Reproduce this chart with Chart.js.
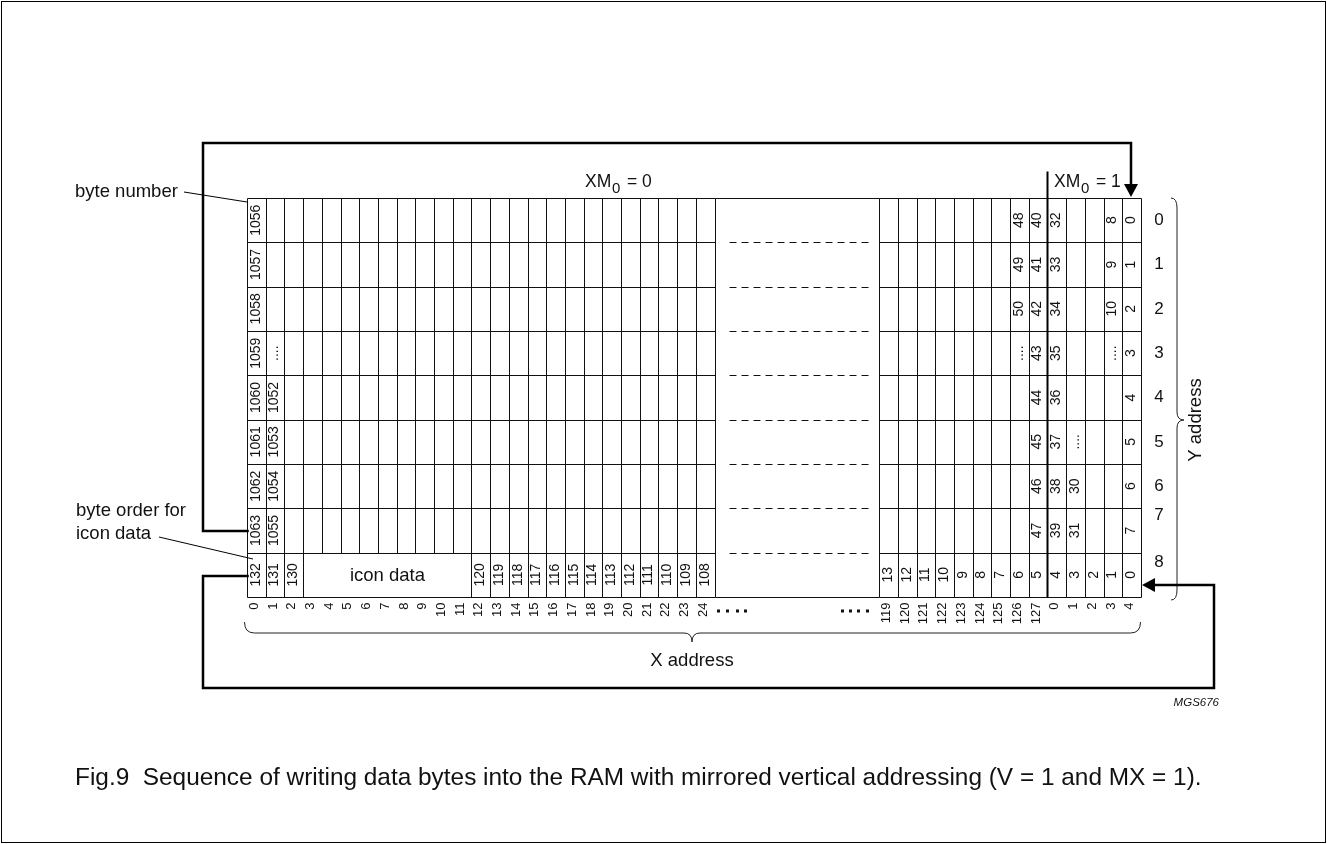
<!DOCTYPE html>
<html>
<head>
<meta charset="utf-8">
<script src="https://cdn.jsdelivr.net/npm/chart.js@4.4.0/dist/chart.umd.min.js"></script>
<style>
  html, body { margin: 0; padding: 0; background: #fff; }
  canvas { display: block; }
</style>
</head>
<body>
<canvas id="ram" width="1327" height="844"></canvas>
<script>
// X address tick labels (left block and right block)
const xAddrLeft = ['0','1','2','3','4','5','6','7','8','9','10','11','12','13','14','15','16','17','18','19','20','21','22','23','24'];
const xAddrRight = ['119','120','121','122','123','124','125','126','127','0','1','2','3','4'];
// Y address labels
const yAddr = ['0','1','2','3','4','5','6','7','8'];

// byte numbers, left block, rows 0..8
const col0Bytes = ['1056','1057','1058','1059','1060','1061','1062','1063','132'];
const col1Bytes = ['','','','....','1052','1053','1054','1055','131'];
const col2Bytes = ['','','','','','','','','130'];
// icon row (row 8), X address 12..24
const iconLeftBytes = ['120','119','118','117','116','115','114','113','112','111','110','109','108'];
// right block, rows 0..7, X address 126, 127 | 0, 1, 2, 3, 4
const col126Bytes = ['48','49','50','....','','','',''];
const col127Bytes = ['40','41','42','43','44','45','46','47'];
const colX0Bytes = ['32','33','34','35','36','37','38','39'];
const colX1Bytes = ['','','','','','....','30','31'];
const colX3Bytes = ['8','9','10','....','','','',''];
const colX4Bytes = ['0','1','2','3','4','5','6','7'];
// icon row (row 8), X address 119..127, 0..4
const iconRightBytes = ['13','12','11','10','9','8','7','6','5','4','3','2','1','0'];

const GAP = 8.8;                 // width of the broken-off middle part, in columns
const RIGHT0 = 25 + GAP;         // first column of the right block
const XMAX = RIGHT0 + xAddrRight.length;
const ROWS = yAddr.length;
const FONT = '"Liberation Sans", Arial, Helvetica, sans-serif';

// build label points from the arrays
const cells = [];
function addCol(slot, list) {
  list.forEach((t, r) => { if (t) cells.push({ x: slot + 0.5, y: r + 0.5, t: t }); });
}
addCol(0, col0Bytes);
addCol(1, col1Bytes);
addCol(2, col2Bytes);
iconLeftBytes.forEach((t, i) => cells.push({ x: 12 + i + 0.5, y: 8.5, t: t }));
addCol(RIGHT0 + 7, col126Bytes);
addCol(RIGHT0 + 8, col127Bytes);
addCol(RIGHT0 + 9, colX0Bytes);
addCol(RIGHT0 + 10, colX1Bytes);
addCol(RIGHT0 + 12, colX3Bytes);
addCol(RIGHT0 + 13, colX4Bytes);
iconRightBytes.forEach((t, i) => cells.push({ x: RIGHT0 + i + 0.5, y: 8.5, t: t }));

function vtext(ctx, t, x, y, align) {
  ctx.save();
  ctx.translate(x, y);
  ctx.rotate(-Math.PI / 2);
  ctx.textAlign = align || 'center';
  ctx.fillText(t, 0, 0);
  ctx.restore();
}

function line(ctx, pts, w) {
  ctx.lineWidth = w;
  ctx.beginPath();
  ctx.moveTo(pts[0][0], pts[0][1]);
  for (let i = 1; i < pts.length; i++) ctx.lineTo(pts[i][0], pts[i][1]);
  ctx.stroke();
}

function arrowHead(ctx, x, y, dir) {
  ctx.beginPath();
  if (dir === 'down') { ctx.moveTo(x, y); ctx.lineTo(x - 7, y - 13); ctx.lineTo(x + 7, y - 13); }
  else { ctx.moveTo(x, y); ctx.lineTo(x + 13, y - 7); ctx.lineTo(x + 13, y + 7); }
  ctx.closePath();
  ctx.fill();
}

const diagram = {
  id: 'diagram',
  beforeDraw(chart) {
    const ctx = chart.ctx;
    ctx.save();
    ctx.fillStyle = '#fff';
    ctx.fillRect(0, 0, chart.width, chart.height);
    ctx.strokeStyle = '#000';
    ctx.lineWidth = 1;
    ctx.strokeRect(1.5, 1.5, chart.width - 3, chart.height - 3);
    ctx.restore();
  },
  afterDatasetsDraw(chart) {
    const ctx = chart.ctx;
    const xs = chart.scales.x, ys = chart.scales.y;
    const px = v => Math.round(xs.getPixelForValue(v)) + 0.5;
    const py = v => Math.round(ys.getPixelForValue(v)) + 0.5;
    const top = py(0), bot = py(ROWS);
    ctx.save();
    ctx.strokeStyle = '#111';
    ctx.fillStyle = '#111';

    // vertical cell lines, left block (icon data cell is merged over cols 3..11)
    for (let b = 0; b <= 25; b++) {
      const end = (b >= 4 && b <= 11) ? py(8) : bot;
      line(ctx, [[px(b), top], [px(b), end]], 1);
    }
    // vertical cell lines, right block
    for (let k = 0; k <= xAddrRight.length; k++) {
      line(ctx, [[px(RIGHT0 + k), top], [px(RIGHT0 + k), bot]], 1);
    }
    // horizontal lines
    for (let r = 0; r <= ROWS; r++) {
      line(ctx, [[px(0), py(r)], [px(25), py(r)]], 1);
      line(ctx, [[px(RIGHT0), py(r)], [px(XMAX), py(r)]], 1);
      if (r === 0 || r === ROWS) {
        line(ctx, [[px(25), py(r)], [px(RIGHT0), py(r)]], 1);
      } else {
        ctx.setLineDash([7, 5]);
        line(ctx, [[px(25) + 14, py(r)], [px(RIGHT0) - 10, py(r)]], 1);
        ctx.setLineDash([]);
      }
    }
    // XM0 boundary
    ctx.strokeStyle = '#000';
    line(ctx, [[px(RIGHT0 + 9), top - 27], [px(RIGHT0 + 9), bot]], 2);

    // byte numbers
    ctx.font = '14px ' + FONT;
    ctx.textBaseline = 'middle';
    const meta = chart.getDatasetMeta(0);
    meta.data.forEach((el, i) => vtext(ctx, cells[i].t, el.x - 0.5, el.y, 'center'));

    // icon data
    ctx.font = '18.5px ' + FONT;
    ctx.textAlign = 'center';
    ctx.fillText('icon data', (px(3) + px(12)) / 2, py(8.5));

    // X address tick labels
    ctx.font = '13px ' + FONT;
    xAddrLeft.forEach((t, i) => vtext(ctx, t, xs.getPixelForValue(i + 0.5) - 2, bot + 5, 'right'));
    xAddrRight.forEach((t, i) => vtext(ctx, t, xs.getPixelForValue(RIGHT0 + i + 0.5) - 2, bot + 5, 'right'));
    // break dots
    [718, 727, 737, 745, 842, 850, 858, 867].forEach(dx => ctx.fillRect(dx - 1, bot + 12, 3, 3));

    // Y address labels
    ctx.font = '17px ' + FONT;
    ctx.textAlign = 'center';
    yAddr.forEach((t, r) => {
      let v = r + 0.5;
      if (r === 7) v = 7.15;
      if (r === 8) v = 8.22;
      ctx.fillText(t, 1159, ys.getPixelForValue(v));
    });

    // braces
    ctx.lineWidth = 1;
    ctx.strokeStyle = '#222';
    const bl = px(0) - 3, br = px(XMAX) - 1, bc = 692, by = 633;
    ctx.beginPath();
    ctx.moveTo(bl, by - 11);
    ctx.quadraticCurveTo(bl, by, bl + 10, by);
    ctx.lineTo(bc - 8, by);
    ctx.quadraticCurveTo(bc, by, bc, by + 9);
    ctx.quadraticCurveTo(bc, by, bc + 8, by);
    ctx.lineTo(br - 10, by);
    ctx.quadraticCurveTo(br, by, br, by - 11);
    ctx.stroke();

    const bx = 1177, bt = 198, bb = 600, bm = 420;
    ctx.beginPath();
    ctx.moveTo(bx - 6, bt);
    ctx.quadraticCurveTo(bx, bt, bx, bt + 10);
    ctx.lineTo(bx, bm - 8);
    ctx.quadraticCurveTo(bx, bm, bx + 7, bm);
    ctx.quadraticCurveTo(bx, bm, bx, bm + 8);
    ctx.lineTo(bx, bb - 10);
    ctx.quadraticCurveTo(bx, bb, bx - 6, bb);
    ctx.stroke();

    // axis titles
    ctx.font = '18.5px ' + FONT;
    ctx.textBaseline = 'middle';
    ctx.textAlign = 'center';
    ctx.fillText('X address', bc, 661);
    vtext(ctx, 'Y address', 1196, 420, 'center');

    // XM0 headers
    function xm(x, val) {
      ctx.textAlign = 'left';
      ctx.textBaseline = 'alphabetic';
      ctx.font = '17.5px ' + FONT;
      ctx.fillText('XM', x, 187);
      ctx.font = '15px ' + FONT;
      ctx.fillText('0', x + 27, 193);
      ctx.font = '17.5px ' + FONT;
      ctx.fillText('= ' + val, x + 42, 187);
    }
    xm(585, '0');
    xm(1054, '1');

    // write-sequence arrows
    ctx.strokeStyle = '#000';
    ctx.fillStyle = '#000';
    ctx.lineCap = 'square';
    line(ctx, [[px(0), 531], [203, 531], [203, 143], [1131, 143], [1131, 185]], 2.5);
    arrowHead(ctx, 1131, 197, 'down');
    line(ctx, [[px(0), 576], [203, 576], [203, 688], [1214, 688], [1214, 585], [1154, 585]], 2.5);
    arrowHead(ctx, 1142, 585, 'left');

    // annotations
    ctx.lineCap = 'butt';
    ctx.lineWidth = 1;
    ctx.fillStyle = '#111';
    ctx.font = '18.5px ' + FONT;
    ctx.textAlign = 'left';
    ctx.textBaseline = 'middle';
    ctx.fillText('byte number', 75, 192);
    line(ctx, [[184, 192], [247, 202]], 1);
    ctx.fillText('byte order for', 76, 511);
    ctx.fillText('icon data', 76, 534);
    line(ctx, [[159, 537], [253, 559]], 1);

    ctx.font = 'italic 11.5px ' + FONT;
    ctx.textAlign = 'right';
    ctx.fillText('MGS676', 1219, 703);

    // caption
    const cap = 'Fig.9  Sequence of writing data bytes into the RAM with mirrored vertical addressing (V = 1 and MX = 1).';
    ctx.font = '18px ' + FONT;
    const fs = 18 * 1128 / ctx.measureText(cap).width;
    ctx.font = fs.toFixed(1) + 'px ' + FONT;
    ctx.textAlign = 'left';
    ctx.fillText(cap, 75, 778);
    ctx.restore();
  }
};

new Chart(document.getElementById('ram'), {
  type: 'scatter',
  data: {
    datasets: [{
      label: 'byte number',
      data: cells,
      pointRadius: 0,
      pointHoverRadius: 0
    }]
  },
  options: {
    responsive: false,
    animation: false,
    devicePixelRatio: 1,
    layout: { padding: { left: 247, right: 186, top: 198, bottom: 247 } },
    scales: {
      x: { type: 'linear', min: 0, max: XMAX, display: false },
      y: { type: 'linear', min: 0, max: ROWS, reverse: true, display: false }
    },
    plugins: { legend: { display: false }, tooltip: { enabled: false } }
  },
  plugins: [diagram]
});
</script>
</body>
</html>
